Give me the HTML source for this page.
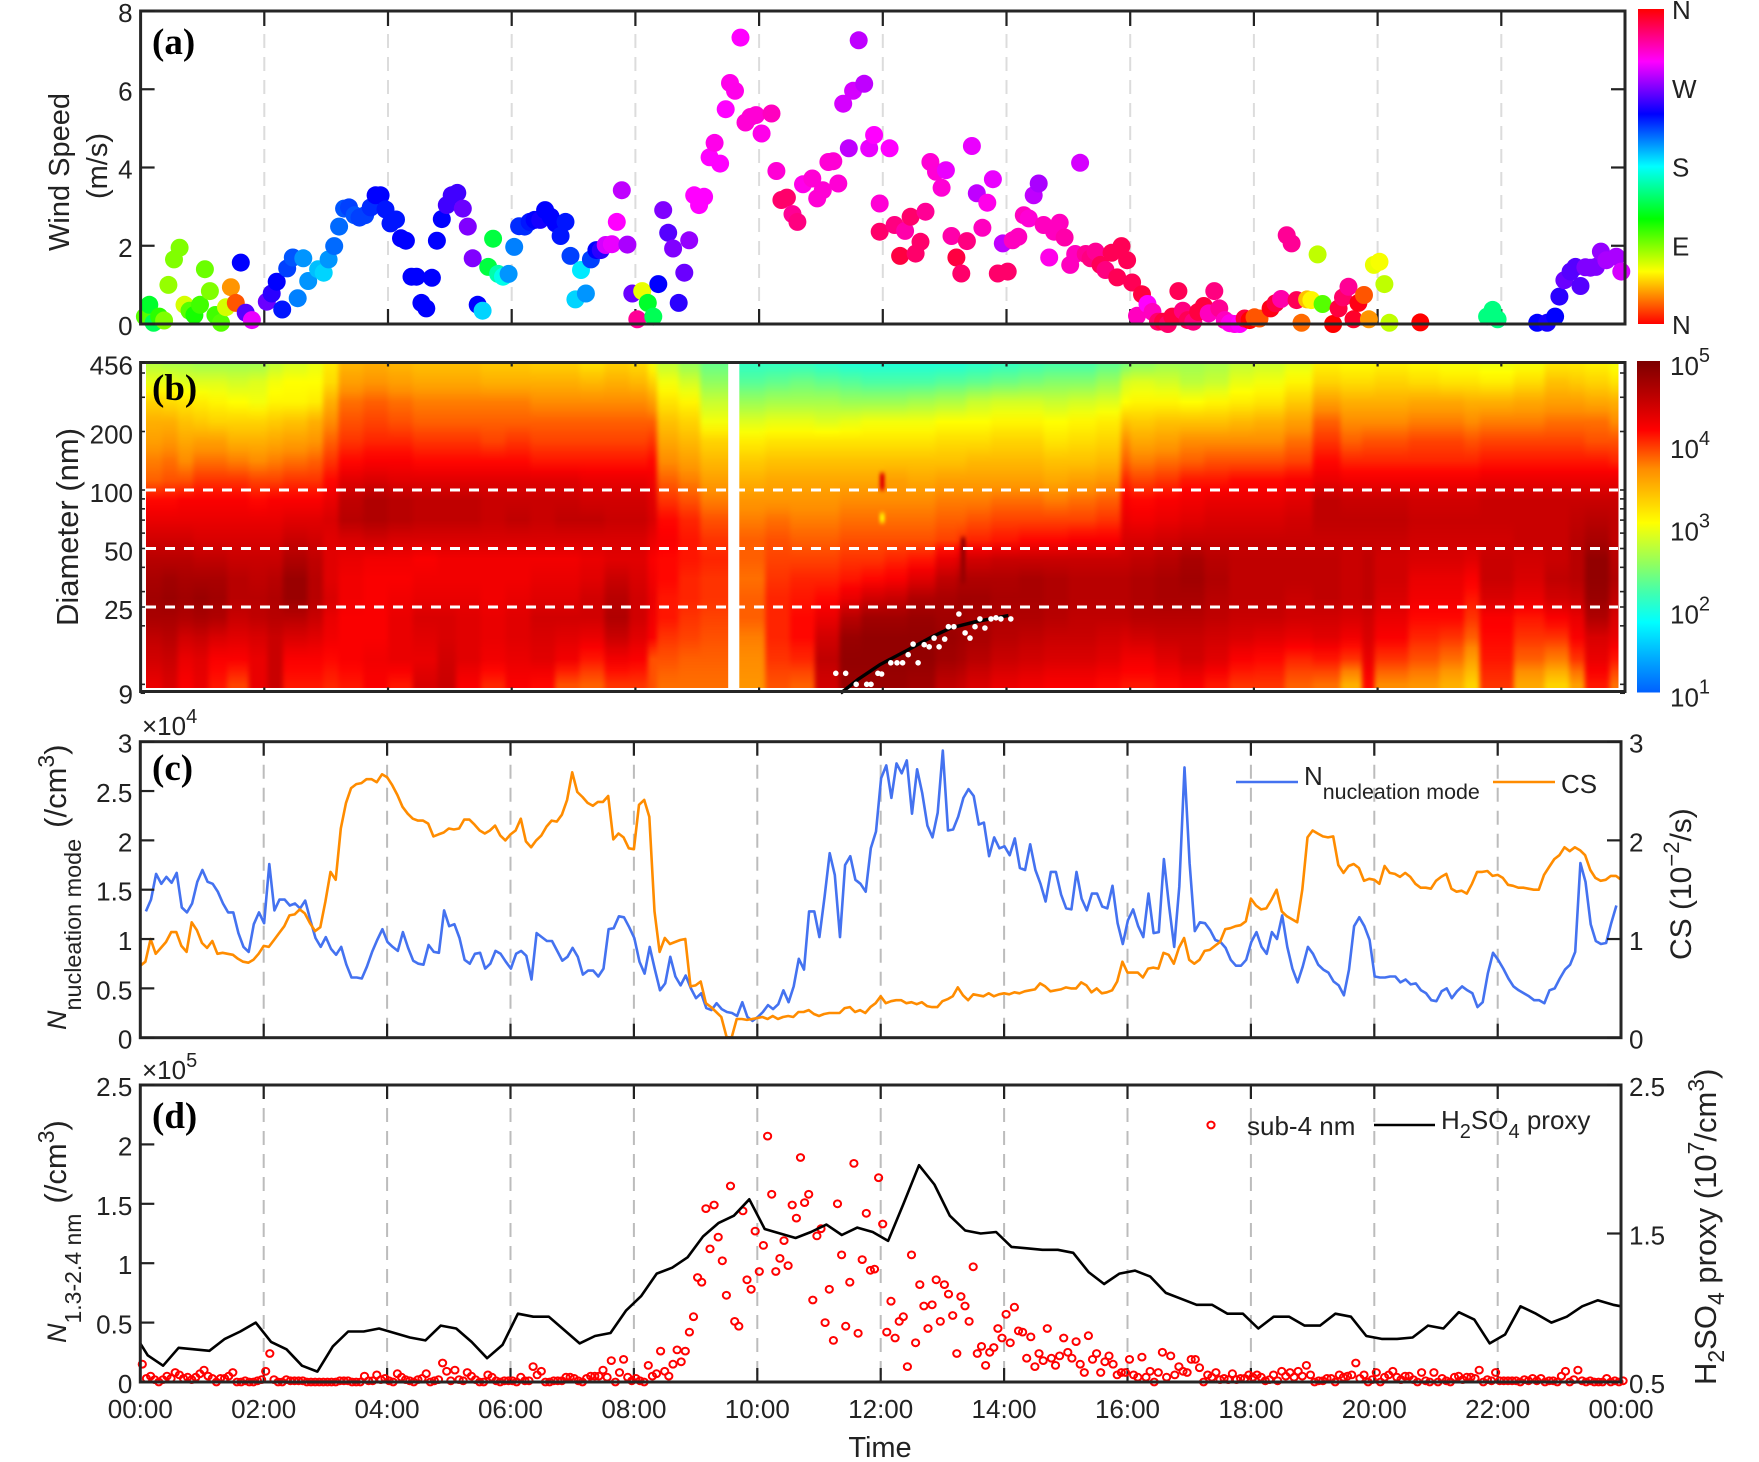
<!DOCTYPE html>
<html lang="en">
<head>
<meta charset="utf-8">
<title>Wind, particle size distribution, nucleation mode and sub-4 nm time series</title>
<style>
html,body{margin:0;padding:0;background:#fff}
svg{display:block}
text{font-family:"Liberation Sans",sans-serif;fill:#222}
.tag{font-family:"Liberation Serif",serif;font-weight:bold;font-size:37px;fill:#000}
.t{font-size:26px}
</style>
</head>
<body>
<svg id="chart" xmlns="http://www.w3.org/2000/svg" width="1759" height="1462" viewBox="0 0 1759 1462">
<defs id="defs">
<clipPath id="heat-clip"><rect x="146" y="364" width="1472.5" height="324"/></clipPath>
<filter id="heat-blur" filterUnits="userSpaceOnUse" x="0" y="300" width="1759" height="450" color-interpolation-filters="sRGB"><feGaussianBlur stdDeviation="2.5 0"/></filter>
<filter id="spike-blur" filterUnits="userSpaceOnUse" x="700" y="400" width="400" height="250" color-interpolation-filters="sRGB"><feGaussianBlur stdDeviation="1.5 2.5"/></filter>
</defs>
<g id="panel-a"></g>
<g id="panel-b"></g>
<g id="panel-c"></g>
<g id="panel-d"></g>
<g id="labels">
<text class="tag" x="152" y="54">(a)</text>
<text class="tag" x="152" y="400">(b)</text>
<text class="tag" x="152" y="780">(c)</text>
<text class="tag" x="152" y="1128">(d)</text>

<text transform="translate(69,172) rotate(-90)" text-anchor="middle" font-size="29">Wind Speed</text>
<text transform="translate(107,166) rotate(-90)" text-anchor="middle" font-size="29">(m/s)</text>
<text transform="translate(78,527) rotate(-90)" text-anchor="middle" font-size="31">Diameter (nm)</text>

<text transform="translate(66,1030) rotate(-90)" font-size="27"><tspan font-style="italic">N</tspan><tspan dy="15" font-size="23.4">nucleation mode</tspan><tspan dy="-15" dx="11" font-size="31">(/cm</tspan><tspan dy="-12" font-size="23">3</tspan><tspan dy="12" font-size="31">)</tspan></text>
<text transform="translate(66,1343) rotate(-90)" font-size="27"><tspan font-style="italic">N</tspan><tspan dy="15" font-size="23">1.3-2.4 nm</tspan><tspan dy="-15" dx="10" font-size="31">(/cm</tspan><tspan dy="-12" font-size="23">3</tspan><tspan dy="12" font-size="31">)</tspan></text>

<text transform="translate(1691,960) rotate(-90)" font-size="30">CS (10<tspan dy="-12" font-size="22">−2</tspan><tspan dy="12">/s)</tspan></text>
<text transform="translate(1716,1385) rotate(-90)" font-size="31">H<tspan dy="8" font-size="23">2</tspan><tspan dy="-8">SO</tspan><tspan dy="8" font-size="23">4</tspan><tspan dy="-8"> proxy (10</tspan><tspan dy="-12" font-size="23">7</tspan><tspan dy="12">/cm</tspan><tspan dy="-12" font-size="23">3</tspan><tspan dy="12">)</tspan></text>

<text x="880" y="1457" text-anchor="middle" font-size="29">Time</text>

<text x="142" y="735" font-size="26">×10<tspan dy="-12" font-size="20">4</tspan></text>
<text x="142" y="1079" font-size="26">×10<tspan dy="-12" font-size="20">5</tspan></text>

<line x1="1236" y1="782" x2="1298" y2="782" stroke="#4472f0" stroke-width="2.6"/>
<text x="1304" y="785" font-size="26">N<tspan dy="14" font-size="21.4">nucleation mode</tspan></text>
<line x1="1493" y1="782" x2="1555" y2="782" stroke="#ff8c00" stroke-width="2.6"/>
<text x="1561" y="793" font-size="26">CS</text>

<ellipse cx="1211" cy="1125" rx="3.6" ry="3.4" fill="none" stroke="#f00" stroke-width="2"/>
<text x="1247" y="1135" font-size="26">sub-4 nm</text>
<line x1="1374" y1="1125" x2="1435" y2="1125" stroke="#000" stroke-width="2.6"/>
<text x="1441" y="1129" font-size="26">H<tspan dy="9" font-size="20">2</tspan><tspan dy="-9">SO</tspan><tspan dy="9" font-size="20">4</tspan><tspan dy="-9"> proxy</tspan></text>
</g>
</svg>
<script>
/* ---------- shared axis labels ---------- */
const timeTickHours = [0,2,4,6,8,10,12,14,16,18,20,22,24];
const timeTickLabels = ["00:00","02:00","04:00","06:00","08:00","10:00","12:00","14:00","16:00","18:00","20:00","22:00","00:00"];
const windTicks = [0,2,4,6,8];
const diameterMajorTicks = [9,25,50,100,200,456];
const diameterMinorTicks = [10,20,30,40,60,70,80,90,300,400];
const nucleationTicks = [0,0.5,1,1.5,2,2.5,3];
const csTicks = [0,1,2,3];
const subTicks = [0,0.5,1,1.5,2,2.5];
const h2so4Ticks = [0.5,1.5,2.5];
const compassLabels = ["N","E","S","W","N"];
const concentrationExponents = [1,2,3,4,5];

/* ---------- panel (a) wind: hours, speed m/s, direction deg ---------- */
const windHours = [.07,.14,.21,.30,.38,.45,.54,.63,.71,.79,.87,.96,1.04,1.12,1.21,1.30,1.38,1.46,1.54,1.62,1.70,1.80,2.04,2.12,2.20,2.29,2.37,2.46,2.54,2.63,2.71,2.87,2.96,3.04,3.13,3.21,3.29,3.37,3.46,3.54,3.63,3.72,3.80,3.88,3.96,4.04,4.13,4.21,4.29,4.38,4.46,4.54,4.62,4.71,4.79,4.87,4.95,5.03,5.12,5.21,5.29,5.37,5.45,5.53,5.62,5.70,5.78,5.86,5.95,6.04,6.12,6.21,6.29,6.37,6.46,6.54,6.63,6.71,6.79,6.87,6.95,7.03,7.12,7.20,7.28,7.37,7.44,7.52,7.62,7.70,7.78,7.87,7.95,8.03,8.11,8.20,8.29,8.37,8.45,8.53,8.61,8.70,8.79,8.87,8.95,9.03,9.11,9.20,9.28,9.37,9.46,9.53,9.61,9.70,9.78,9.86,9.95,10.04,10.20,10.28,10.36,10.45,10.54,10.62,10.71,10.86,10.94,11.03,11.12,11.20,11.28,11.36,11.45,11.52,11.61,11.70,11.78,11.86,11.95,11.95,12.11,12.19,12.28,12.36,12.45,12.53,12.61,12.69,12.77,12.86,12.95,13.02,13.11,13.19,13.27,13.36,13.44,13.52,13.61,13.69,13.78,13.86,13.94,14.02,14.10,14.19,14.28,14.36,14.44,14.52,14.60,14.69,14.77,14.86,14.94,15.03,15.11,15.19,15.28,15.36,15.44,15.52,15.60,15.70,15.79,15.86,15.95,16.03,16.11,16.19,16.28,16.36,16.45,16.53,16.61,16.68,16.78,16.85,16.93,17.02,17.10,17.19,17.27,17.36,17.44,17.53,17.61,17.69,17.77,17.85,17.93,18.01,18.09,18.27,18.35,18.44,18.53,18.61,18.69,18.77,18.86,18.93,19.03,19.11,19.28,19.37,19.44,19.53,19.61,19.69,19.78,19.86,19.94,20.03,20.11,20.19,20.69,21.77,21.86,21.94,22.58,22.74,22.87,22.94,23.02,23.12,23.20,23.28,23.36,23.44,23.53,23.61,23.70,23.86,23.94];
const windSpeeds = [.19,.49,.03,.19,.09,1.0,1.65,1.95,.49,.34,.23,.49,1.40,.84,.23,.03,.43,.94,.54,1.57,.29,.10,.57,.78,1.08,.37,1.42,1.70,.66,1.68,1.10,1.40,1.31,1.65,1.99,2.49,2.95,2.98,2.78,2.72,2.78,2.98,3.29,3.29,2.93,2.57,2.67,2.19,2.13,1.21,1.21,.54,.40,1.18,2.13,2.68,3.04,3.29,3.35,2.95,2.49,1.68,.49,.34,1.46,2.18,1.28,1.21,1.28,1.97,2.50,2.49,2.61,2.66,2.66,2.91,2.74,2.57,2.25,2.61,1.74,.63,1.38,.78,1.65,1.89,1.89,2.02,2.04,2.61,3.42,2.03,.78,.12,.84,.54,.19,1.02,2.91,2.33,1.93,.54,1.31,2.14,3.29,3.04,3.25,4.26,4.63,4.10,5.49,6.16,5.96,7.32,5.15,5.29,5.34,4.87,5.38,3.91,3.17,3.23,2.81,2.61,3.57,3.72,3.21,3.42,4.14,4.16,3.59,5.63,4.49,5.96,7.25,6.14,4.49,4.83,3.08,2.36,4.49,2.53,1.74,2.38,2.74,1.80,2.10,2.87,4.14,3.89,3.48,3.93,2.25,1.70,1.29,2.12,4.55,3.34,2.46,3.10,3.70,1.29,2.06,1.34,2.14,2.23,2.78,2.70,3.29,3.59,2.53,1.70,2.36,2.59,2.21,1.51,1.79,4.12,1.79,1.68,1.85,1.51,1.38,1.82,1.19,1.99,1.63,1.06,.21,.76,.51,.31,.06,.06,0,.19,.84,.34,.10,.06,.31,.46,.27,.84,.40,.10,.02,0,0,.14,.10,.17,.14,.40,.53,.64,2.27,2.06,.61,.03,.63,.61,1.78,.51,0,.40,.68,.95,.12,.54,.74,.12,1.51,1.59,1.02,.03,.04,.19,.36,.12,.03,.03,.19,.70,1.12,1.34,1.46,.97,1.45,1.44,1.46,1.85,1.63,1.72,1.34];
const windDirections = [100,130,140,110,90,85,90,90,70,100,115,105,95,90,105,100,70,35,20,240,260,295,265,250,240,235,225,220,210,205,205,195,190,205,215,215,220,225,220,225,225,230,240,240,235,235,235,240,240,240,240,240,240,240,240,240,255,255,255,265,270,270,240,190,135,135,160,175,205,210,230,230,235,240,245,240,240,240,235,235,225,190,185,205,225,240,250,290,295,300,285,280,265,325,65,130,140,240,270,260,270,250,265,275,300,300,300,300,305,300,300,305,305,300,310,310,310,305,315,310,335,335,325,330,305,310,310,310,310,310,310,290,285,290,285,285,295,300,310,335,300,330,345,320,335,335,335,325,310,310,310,295,320,345,335,330,295,285,315,305,295,335,285,335,315,315,315,310,285,280,315,305,315,315,320,315,315,290,325,330,325,340,330,340,340,340,340,340,315,345,300,315,335,345,335,345,340,330,340,330,345,345,315,330,325,315,305,305,300,345,0,20,20,355,345,320,325,325,340,25,45,58,75,100,0,345,335,325,350,355,20,35,65,62,75,75,0,150,150,150,240,245,240,250,265,260,260,260,270,270,270,275,280,280,290];

/* ---------- panel (b) size distribution, log10(dN/dlogDp) ---------- */
const growthHours = [11.32,11.6,11.95,12.4,12.8,13.1,13.5,14.03];
const growthDiameters = [9,10.6,12.6,15,17.6,19.5,21,22.6];
const modeHours = [11.24,11.40,11.57,11.74,11.81,11.92,11.98,12.13,12.23,12.32,12.57,12.41,12.49,12.67,12.75,12.83,12.91,13.0,13.06,13.15,13.23,13.33,13.41,13.49,13.57,13.65,13.75,13.83,13.91,14.07];
const modeDiameters = [11.4,11.4,10,10,10,11.4,11.3,12.9,12.9,12.9,12.9,14.2,16.1,16,15.6,17.3,15.6,17.1,19.8,19.8,23,18.4,17.3,19.8,21.7,19.5,21.7,22,21.7,21.7];
const referenceDiameters = [100,50,25];
const missingStartHour = 9.5;
const missingEndHour = 9.68;
const spikeHours = [11.99,11.99,13.3];
const spikeUpperDiameters = [122,76,57];
const spikeLowerDiameters = [100,68,33];
const spikeValues = [4.35,3.1,4.8];
const heatDiameters = [456,360,285,225,178,141,112,89,70,56,44,35,28,22,17.5,13.8,10];
const heatHours = [0,.35,.6,.85,1.1,1.4,1.75,2.05,2.3,2.7,2.95,3.2,3.6,4.0,4.4,4.8,5.1,5.5,5.9,6.3,6.7,7.1,7.5,7.9,8.2,8.35,8.7,9.05,9.59,10.1,10.5,10.9,11.3,11.65,12.03,12.4,12.85,13.2,13.35,13.75,14.2,14.6,15.0,15.45,15.85,16.0,16.4,16.8,17.2,17.6,18.0,18.5,18.95,19.4,19.75,19.95,20.5,21.0,21.4,21.65,22.2,22.7,23.1,23.35,23.75,24];
const heatValues = [
[2.7,2.95,3.3,3.5,3.6,3.75,3.85,4.15,4.3,4.45,4.6,4.7,4.75,4.7,4.55,4.45,4.3],
[2.65,2.95,3.25,3.5,3.65,3.8,3.9,4.15,4.3,4.45,4.6,4.75,4.8,4.7,4.6,4.5,4.4],
[2.65,2.9,3.2,3.4,3.55,3.7,3.9,4.2,4.3,4.45,4.6,4.7,4.75,4.65,4.45,4.3,4.2],
[2.6,2.9,3.15,3.35,3.6,3.8,4.0,4.2,4.3,4.4,4.55,4.7,4.8,4.7,4.5,4.35,4.3],
[2.6,2.9,3.1,3.3,3.6,3.8,4.0,4.2,4.3,4.4,4.55,4.7,4.75,4.65,4.4,4.2,4.1],
[2.6,2.85,3.05,3.3,3.5,3.75,4.0,4.2,4.3,4.4,4.5,4.6,4.6,4.5,4.35,4.2,3.95],
[2.6,2.9,3.0,3.3,3.5,3.7,3.95,4.15,4.3,4.4,4.5,4.55,4.6,4.55,4.4,4.3,4.3],
[2.75,3.0,3.1,3.35,3.55,3.75,3.95,4.2,4.3,4.4,4.5,4.6,4.65,4.6,4.5,4.5,4.5],
[2.85,3.05,3.1,3.4,3.6,3.8,4.0,4.2,4.35,4.5,4.65,4.8,4.8,4.6,4.4,4.2,4.1],
[2.95,3.05,3.15,3.5,3.65,3.85,4.0,4.2,4.35,4.45,4.55,4.6,4.6,4.5,4.35,4.2,4.1],
[3.15,3.25,3.5,3.7,3.85,4.0,4.15,4.3,4.4,4.35,4.35,4.35,4.4,4.3,4.25,4.15,4.05],
[3.45,3.6,3.8,3.9,4.0,4.15,4.35,4.55,4.6,4.4,4.3,4.25,4.25,4.2,4.2,4.2,4.1],
[3.5,3.65,3.85,3.95,4.05,4.2,4.4,4.65,4.65,4.45,4.25,4.2,4.2,4.2,4.2,4.25,4.2],
[3.45,3.6,3.8,3.9,4.05,4.2,4.35,4.6,4.6,4.4,4.25,4.2,4.25,4.3,4.3,4.3,4.1],
[3.4,3.55,3.75,3.85,4.0,4.15,4.35,4.55,4.55,4.4,4.2,4.25,4.3,4.4,4.35,4.3,4.4],
[3.4,3.55,3.75,3.85,4.0,4.15,4.35,4.55,4.55,4.4,4.25,4.25,4.3,4.4,4.4,4.45,4.5],
[3.4,3.55,3.75,3.85,4.0,4.15,4.35,4.55,4.55,4.4,4.25,4.25,4.3,4.35,4.35,4.35,4.2],
[3.35,3.5,3.75,3.85,3.95,4.15,4.35,4.5,4.5,4.4,4.25,4.25,4.25,4.3,4.3,4.25,4.05],
[3.35,3.5,3.75,3.85,4.0,4.15,4.35,4.5,4.55,4.4,4.25,4.25,4.3,4.35,4.35,4.3,4.2],
[3.3,3.5,3.7,3.85,3.95,4.1,4.35,4.5,4.5,4.4,4.25,4.3,4.35,4.45,4.4,4.35,4.15],
[3.3,3.5,3.7,3.85,3.95,4.1,4.35,4.5,4.55,4.4,4.25,4.3,4.35,4.45,4.35,4.25,3.9],
[3.2,3.45,3.7,3.85,3.95,4.1,4.3,4.45,4.55,4.4,4.3,4.35,4.45,4.45,4.3,4.1,3.85],
[3.3,3.5,3.7,3.85,3.95,4.1,4.3,4.45,4.5,4.4,4.35,4.5,4.6,4.65,4.5,4.25,4.0],
[3.25,3.45,3.7,3.85,3.95,4.1,4.3,4.45,4.5,4.4,4.35,4.4,4.45,4.45,4.35,4.2,4.0],
[3.0,3.3,3.6,3.85,4.0,4.15,4.25,4.35,4.4,4.3,4.2,4.25,4.3,4.25,4.2,3.9,3.9],
[2.75,3.0,3.2,3.4,3.55,3.7,3.85,4.0,4.15,4.2,4.15,4.15,4.1,4.1,4.0,3.9,3.8],
[2.55,2.85,3.1,3.3,3.45,3.6,3.75,3.9,4.05,4.1,4.1,4.05,4.05,4.0,3.95,3.85,3.8],
[2.35,2.55,2.8,3.0,3.3,3.45,3.6,3.75,3.9,4.0,4.05,4.0,4.0,3.95,3.9,3.85,3.8],
[2.1,2.3,2.6,2.9,3.15,3.35,3.5,3.65,3.75,3.85,3.85,3.8,3.85,3.85,3.75,3.7,3.65],
[2.1,2.35,2.65,2.95,3.2,3.4,3.55,3.65,3.8,3.9,3.95,4.0,4.05,4.05,4.05,4.0,3.9],
[2.1,2.4,2.65,2.95,3.2,3.4,3.55,3.65,3.75,3.85,3.95,4.05,4.1,4.15,4.15,4.05,3.85],
[2.05,2.35,2.65,2.9,3.2,3.4,3.55,3.65,3.75,3.85,3.95,4.05,4.15,4.3,4.45,4.55,4.45],
[2.0,2.3,2.6,2.95,3.2,3.4,3.55,3.7,3.8,3.9,4.0,4.1,4.3,4.6,4.8,4.85,4.8],
[2.0,2.25,2.6,3.0,3.2,3.4,3.55,3.7,3.8,3.9,4.0,4.15,4.45,4.75,4.85,4.85,4.8],
[2.0,2.25,2.6,3.0,3.2,3.4,3.6,3.7,3.8,3.9,4.05,4.2,4.5,4.75,4.85,4.85,4.8],
[2.0,2.25,2.65,3.0,3.2,3.4,3.55,3.7,3.8,3.9,4.1,4.35,4.65,4.8,4.85,4.85,4.75],
[2.0,2.3,2.7,3.05,3.25,3.4,3.6,3.75,3.85,3.95,4.3,4.55,4.7,4.75,4.8,4.75,4.55],
[2.0,2.3,2.7,3.05,3.25,3.4,3.6,3.75,3.85,4.0,4.4,4.65,4.75,4.75,4.75,4.7,4.5],
[2.05,2.35,2.8,3.05,3.25,3.45,3.6,3.75,3.9,4.05,4.45,4.65,4.75,4.7,4.7,4.6,4.4],
[2.1,2.4,2.85,3.1,3.3,3.45,3.6,3.8,3.95,4.1,4.5,4.65,4.7,4.65,4.6,4.5,4.3],
[2.15,2.45,2.85,3.1,3.3,3.45,3.6,3.8,3.95,4.15,4.5,4.7,4.7,4.65,4.55,4.45,4.25],
[2.2,2.5,2.8,3.05,3.2,3.4,3.55,3.75,3.95,4.15,4.5,4.65,4.65,4.6,4.5,4.4,4.2],
[2.2,2.5,2.85,3.1,3.25,3.4,3.6,3.8,3.95,4.2,4.5,4.6,4.6,4.55,4.5,4.4,4.2],
[2.3,2.6,2.9,3.15,3.3,3.45,3.65,3.85,4.0,4.2,4.5,4.6,4.6,4.55,4.45,4.35,4.15],
[2.4,2.85,3.05,3.4,3.7,3.85,4.05,4.2,4.3,4.4,4.5,4.6,4.6,4.55,4.4,4.25,4.1],
[2.5,2.9,3.1,3.35,3.55,3.75,3.95,4.15,4.25,4.4,4.55,4.65,4.65,4.6,4.45,4.25,4.1],
[2.6,2.85,3.1,3.4,3.6,3.8,4.0,4.2,4.3,4.45,4.6,4.7,4.7,4.6,4.5,4.35,4.15],
[2.6,2.75,3.05,3.4,3.7,3.85,4.1,4.25,4.35,4.5,4.7,4.75,4.7,4.6,4.5,4.45,4.2],
[2.65,2.8,3.1,3.4,3.7,3.9,4.1,4.3,4.4,4.5,4.6,4.65,4.6,4.55,4.45,4.35,4.1],
[2.75,2.95,3.15,3.45,3.7,3.9,4.15,4.3,4.4,4.5,4.55,4.55,4.55,4.5,4.4,4.2,4.0],
[2.8,3.0,3.2,3.5,3.7,3.9,4.15,4.3,4.4,4.5,4.55,4.55,4.55,4.5,4.35,4.15,4.0],
[2.9,3.1,3.35,3.6,3.8,3.95,4.2,4.35,4.45,4.5,4.55,4.55,4.5,4.45,4.3,4.05,3.85],
[3.1,3.3,3.6,3.85,4.0,4.15,4.3,4.55,4.55,4.5,4.55,4.55,4.55,4.45,4.35,4.1,3.8],
[3.05,3.25,3.5,3.7,3.85,4.05,4.25,4.5,4.55,4.5,4.5,4.5,4.5,4.4,4.25,4.0,3.5],
[3.05,3.25,3.5,3.7,3.9,4.05,4.25,4.5,4.55,4.5,4.55,4.55,4.55,4.45,4.4,4.3,4.15],
[3.1,3.3,3.5,3.7,3.9,4.05,4.25,4.5,4.55,4.5,4.45,4.45,4.4,4.3,4.2,4.0,3.7],
[3.05,3.25,3.55,3.75,3.95,4.05,4.25,4.45,4.5,4.45,4.4,4.3,4.25,4.15,4.05,3.9,3.65],
[3.0,3.2,3.55,3.75,3.95,4.05,4.25,4.45,4.5,4.45,4.4,4.3,4.25,4.15,4.0,3.8,3.5],
[3.0,3.2,3.5,3.7,3.9,4.05,4.25,4.45,4.5,4.45,4.35,4.2,4.1,4.0,3.85,3.6,3.3],
[2.95,3.15,3.5,3.75,3.95,4.1,4.3,4.5,4.5,4.45,4.5,4.5,4.4,4.2,4.15,4.1,4.0],
[3.0,3.25,3.55,3.75,3.95,4.1,4.3,4.5,4.5,4.5,4.45,4.4,4.3,4.1,4.0,3.85,3.55],
[3.15,3.4,3.6,3.8,3.95,4.1,4.3,4.5,4.5,4.5,4.5,4.55,4.45,4.2,4.0,3.75,3.3],
[3.15,3.35,3.6,3.8,3.95,4.1,4.3,4.5,4.55,4.6,4.6,4.6,4.5,4.3,4.2,4.0,3.6],
[3.1,3.3,3.55,3.8,3.9,4.1,4.3,4.5,4.6,4.7,4.85,4.85,4.8,4.65,4.4,4.3,4.1],
[3.0,3.2,3.5,3.7,3.9,4.05,4.3,4.5,4.55,4.55,4.6,4.65,4.55,4.4,4.3,4.1,3.8]
];

/* ---------- panel (c) five-minute series ---------- */
const nucleationStartHour = 0.09;
const csStartHour = 0;
const fiveMinuteStep = 1/12;
const nucleationValues = [1.28,1.40,1.66,1.56,1.63,1.57,1.67,1.32,1.27,1.36,1.58,1.70,1.58,1.56,1.48,1.36,1.27,1.27,1.06,.92,.87,1.15,1.27,1.16,1.76,1.29,1.40,1.40,1.34,1.36,1.31,1.39,1.19,1.01,.92,1.02,.90,.84,.92,.74,.61,.61,.60,.72,.87,.99,1.10,.97,.92,.88,1.07,.91,.78,.75,.74,.94,.87,.86,1.29,1.13,1.15,1.01,.79,.75,.85,.86,.70,.75,.88,.85,.77,.70,.85,.88,.83,.59,1.06,1.02,.98,.98,.88,.78,.82,.91,.82,.64,.68,.68,.62,.70,1.10,1.11,1.23,1.22,1.12,1.01,.77,.65,.92,.69,.48,.55,.82,.62,.53,.63,.50,.40,.45,.30,.28,.35,.29,.26,.25,.22,.36,.21,.17,.21,.26,.33,.29,.34,.48,.36,.52,.80,.69,1.28,1.28,1.02,1.43,1.87,1.65,1.02,1.75,1.84,1.60,1.56,1.48,1.92,2.09,2.63,
2.76,2.43,2.78,2.68,2.81,2.27,2.72,2.48,2.15,2.03,2.28,2.91,2.10,2.11,2.24,2.43,2.52,2.45,2.16,2.18,1.84,2.03,1.92,1.94,1.85,2.02,1.72,1.70,1.96,1.70,1.56,1.38,1.68,1.68,1.45,1.31,1.30,1.68,1.41,1.29,1.46,1.46,1.33,1.31,1.54,1.16,.95,1.19,1.30,1.13,1.02,1.46,1.06,1.07,1.81,1.34,.92,1.53,2.74,1.77,1.08,1.17,1.16,1.09,.99,.97,.91,.79,.73,.73,.79,.97,1.07,.92,.85,1.07,1.00,1.24,.92,.70,.56,.72,.92,.85,.74,.69,.66,.57,.53,.43,.69,1.13,1.22,1.13,.99,.62,.61,.61,.62,.62,.56,.59,.54,.55,.48,.45,.38,.37,.47,.50,.40,.47,.52,.48,.45,.31,.36,.65,.86,.79,.70,.60,.52,.48,.45,.42,.38,.38,.35,.48,.50,.60,.69,.74,.87,1.77,1.58,1.15,.98,.95,.96,1.16,1.34];
const csValues = [.73,.77,1.00,.85,.91,.97,1.07,1.07,.93,.87,1.17,1.09,.96,.91,.98,.85,.86,.85,.84,.80,.77,.76,.79,.85,.93,.92,.99,1.06,1.13,1.24,1.25,1.30,1.26,1.16,1.08,1.12,1.38,1.68,1.60,2.12,2.38,2.53,2.57,2.58,2.62,2.62,2.59,2.67,2.64,2.56,2.46,2.34,2.27,2.22,2.20,2.20,2.17,2.04,2.06,2.08,2.12,2.11,2.12,2.21,2.21,2.16,2.10,2.07,2.10,2.15,2.05,2.00,2.06,2.10,2.22,1.99,1.93,2.00,2.05,2.14,2.20,2.19,2.26,2.41,2.69,2.49,2.44,2.38,2.35,2.39,2.39,2.45,2.01,2.07,2.03,1.92,1.91,2.36,2.41,2.24,1.28,.87,1.01,.95,.97,.99,1.00,.52,.53,.57,.35,.31,.26,.21,.01,0,.19,.19,.18,.19,.20,.21,.19,.22,.19,.21,.22,.21,.26,.26,.28,.24,.22,.24,.25,.25,.25,.30,.31,.26,.28,.25,.31,.35,.42,
.35,.37,.38,.38,.35,.36,.34,.36,.32,.31,.31,.37,.39,.42,.51,.43,.38,.44,.43,.42,.45,.42,.44,.45,.44,.46,.45,.47,.48,.49,.55,.52,.47,.48,.49,.51,.50,.50,.56,.53,.46,.50,.45,.46,.48,.57,.77,.66,.66,.66,.61,.70,.71,.70,.86,.84,.75,.91,1.01,.79,.75,.79,.88,.89,.93,.97,1.10,1.11,1.13,1.14,1.18,1.41,1.34,1.30,1.31,1.40,1.50,1.28,1.23,1.20,1.17,1.50,2.03,2.10,2.07,2.04,2.03,2.04,1.75,1.67,1.74,1.76,1.72,1.59,1.61,1.60,1.56,1.74,1.67,1.66,1.63,1.67,1.63,1.56,1.52,1.52,1.51,1.59,1.63,1.66,1.51,1.48,1.49,1.46,1.56,1.68,1.68,1.69,1.64,1.65,1.62,1.55,1.54,1.52,1.52,1.51,1.50,1.50,1.65,1.73,1.81,1.85,1.93,1.89,1.93,1.90,1.85,1.70,1.62,1.59,1.60,1.64,1.64,1.60];

/* ---------- panel (d) ---------- */
const subStartHour = 0.033;
const subStep = 1/15;
const subValues = [.15,.03,.05,.02,0,.02,.05,.03,.08,.06,.03,.04,.02,.04,.07,.10,.05,.03,0,.03,.03,.05,.08,0,0,.01,0,0,.01,.02,.09,.24,.02,0,0,.02,.01,.01,.01,.01,0,0,0,0,0,0,0,0,.01,.01,.01,0,0,0,.05,.01,.01,.06,.02,.03,.01,0,.07,.04,.02,.01,0,.02,.03,.07,0,.01,.02,.16,.09,.01,.10,.02,.01,.08,.05,.02,0,0,.06,.04,.01,0,.01,.01,.01,0,.04,.01,.01,.13,.06,.09,0,0,.01,.01,.01,.04,.04,.03,.01,0,.03,.05,.05,.05,.10,.04,.18,0,.08,.19,.04,.01,.03,.01,0,.14,.05,.07,.26,.09,.05,.15,.27,.17,.26,.42,.55,.88,.84,1.46,1.12,1.49,1.22,1.02,.73,1.65,.51,.47,1.44,.86,.78,1.27,.93,1.15,2.07,1.58,.93,1.04,1.19,.98,1.49,1.38,1.89,1.51,1.58,.69,1.23,1.29,.50,.78,.35,1.50,1.07,.47,.84,1.84,.41,1.03,1.42,.94,.95,1.72,1.33,.42,.68,.37,.51,.55,.13,1.07,.33,.82,.64,.45,.65,.86,.51,.82,.74,.56,.24,.72,.64,.51,.97,.24,.30,.14,.25,.29,.45,.37,.57,.33,.63,.43,.42,.20,.38,.13,.24,.18,.45,.20,.14,.22,.37,.25,.20,.34,.15,.08,.39,.19,.24,.08,.17,.22,.15,.06,.08,.08,.19,.06,.04,.21,.04,.09,0,.08,.25,.04,.22,.06,.13,.09,.08,.19,.19,.12,0,.06,.04,.08,.02,.03,.02,.07,.02,.03,.03,.06,.04,.06,.04,.01,.02,.06,.01,.09,.05,.08,.04,.09,.05,.14,.06,0,.01,.01,.03,.03,0,.06,.04,.05,.06,.16,.03,.06,0,.02,.08,0,.04,.06,.09,.04,.02,.05,.05,.02,0,.08,.01,0,.08,0,.03,.01,0,.04,.05,.02,.04,.04,.03,.10,0,.02,.01,.08,.01,.01,.01,.01,.01,0,.02,.01,.03,.01,.03,0,.01,.01,0,.05,.09,0,.02,.10,.01,0,.01,0,0,0,.03,0,.01,0,.01];
const h2so4Values = [.76,.68,.61,.73,.72,.71,.79,.84,.90,.77,.72,.61,.57,.74,.84,.84,.86,.83,.80,.78,.88,.86,.77,.66,.75,.96,.94,.94,.85,.76,.81,.83,.98,1.08,1.23,1.27,1.34,1.48,1.57,1.62,1.73,1.53,1.50,1.47,1.51,1.56,1.49,1.54,1.51,1.45,1.70,1.96,1.83,1.62,1.52,1.50,1.51,1.41,1.40,1.39,1.39,1.37,1.24,1.16,1.23,1.25,1.21,1.10,1.06,1.02,1.02,.96,.96,.86,.94,.94,.88,.88,.96,.94,.81,.79,.79,.80,.88,.86,.97,.92,.76,.82,1.01,.96,.90,.94,1.01,1.05,1.02,1.01];
const h2so4FirstHour = 0;
const h2so4SecondHour = 0.12;
const h2so4Step = 0.25;
const h2so4LastHour = 24;

/* ---------- colour map stops for the concentration scale ---------- */
const concStops = [1.0,1.4,1.85,2.2,2.55,3.05,3.7,4.17,4.6,5.0];
const concColors = [[0,96,255],[0,168,255],[0,255,255],[64,255,176],[144,255,96],[255,255,0],[255,140,0],[255,0,0],[184,0,0],[124,0,0]];

/* ---------- scales ---------- */
const xA = h => 140.6 + h * 61.85;
const xC = h => 140.3 + h * 61.7;
const yA = v => 324 - v * 39.125;
const yB = d => 490 - Math.log2(d / 100) * 58.5;
const yC = v => 1037.7 - v * (296 / 3);
const yDL = v => 1382 - v * (297 / 2.5);
const yDR = v => 1382 - (v - 0.5) * (297 / 2);
const concColor = v => {
  const s = concStops, c = concColors;
  if (v <= s[0]) return 'rgb(' + c[0] + ')';
  for (let i = 1; i < s.length; i++) {
    if (v <= s[i]) {
      const f = (v - s[i-1]) / (s[i] - s[i-1]);
      return 'rgb(' + c[i].map((q, k) => Math.round(c[i-1][k] + (q - c[i-1][k]) * f)).join(',') + ')';
    }
  }
  return 'rgb(' + c[c.length-1] + ')';
};

const NS = 'http://www.w3.org/2000/svg';
const defs = document.getElementById('defs');
const pA = document.getElementById('panel-a');
const pB = document.getElementById('panel-b');
const pC = document.getElementById('panel-c');
const pD = document.getElementById('panel-d');
function mk(parent, tag, attrs, text) {
  const n = document.createElementNS(NS, tag);
  for (const k in attrs) n.setAttribute(k, attrs[k]);
  if (text !== undefined) n.textContent = text;
  parent.appendChild(n);
  return n;
}

/* grid and x ticks */
function timeGrid(parent, x, top, bottom, color, tickLen, withDash) {
  timeTickHours.slice(1, -1).forEach(h => {
    if (withDash) {
      const g = mk(parent, 'line', {x1: x(h), x2: x(h), y1: top, y2: bottom, stroke: color, 'stroke-width': 2, 'stroke-dasharray': '14 9'});
      
      
    }
    const t1 = mk(parent, 'line', {x1: x(h), x2: x(h), y1: top, y2: top + tickLen, stroke: '#222', 'stroke-width': 2.2});
    
    
    const t2 = mk(parent, 'line', {x1: x(h), x2: x(h), y1: bottom - tickLen, y2: bottom, stroke: '#222', 'stroke-width': 2.2});
    
    
  });
}
function frame(parent, x1, y1, x2, y2) {
  const r = mk(parent, 'rect', {x: x1, y: y1, width: x2 - x1, height: y2 - y1, fill: 'none', stroke: '#262626', 'stroke-width': 3});
  
  
}
function leftTicks(parent, vals, y, xL, len) {
  vals.forEach(v => {
    const t = mk(parent, 'line', {x1: xL, x2: xL + len, y1: y(v), y2: y(v), stroke: '#222', 'stroke-width': 2.2});
    
    
    const l = mk(parent, 'text', {x: xL - 8, y: y(v) + 11, 'text-anchor': 'end', 'class': 't'}, String(v));
    
    
  });
}
function rightTickMarks(parent, vals, y, xR, len) {
  vals.forEach(v => {
    const t = mk(parent, 'line', {x1: xR - len, x2: xR, y1: y(v), y2: y(v), stroke: '#222', 'stroke-width': 2.2});
    
    
  });
}
function rightTickLabels(parent, vals, y, xR) {
  vals.forEach(v => {
    const l = mk(parent, 'text', {x: xR + 8, y: y(v) + 11, 'class': 't'}, String(v));
    
    
  });
}
function seriesPath(parent, hours, values, x, y, color, name) {
  const d = values.map((v, i) => (i ? 'L' : 'M') + x(hours(i)).toFixed(1) + ' ' + y(v).toFixed(1)).join('');
  const p = mk(parent, 'path', {d: d, fill: 'none', stroke: color, 'stroke-width': 2.6, 'stroke-linejoin': 'round'});
  
  
  return p;
}

/* ---------- panel a ---------- */
timeGrid(pA, xA, 11, 324, '#dcdcdc', 15, true);
windHours.forEach((h, i) => {
  const c = mk(pA, 'circle', {cx: xA(h).toFixed(1), cy: yA(windSpeeds[i]).toFixed(1), r: 9, fill: 'hsl(' + windDirections[i] + ',100%,50%)'});
  
  
});
frame(pA, 140.6, 11, 1625, 324);
leftTicks(pA, windTicks, yA, 140.6, 14);
rightTickMarks(pA, windTicks.slice(1, -1), yA, 1625, 14);

const windGrad = mk(defs, 'linearGradient', {id: 'wind-grad', x1: 0, y1: 1, x2: 0, y2: 0});
[0, 60, 120, 180, 240, 300, 360].forEach(d => {
  mk(windGrad, 'stop', {offset: d / 360, 'stop-color': 'hsl(' + d + ',100%,50%)'});
});
const windBar = mk(pA, 'rect', {x: 1638, y: 9, width: 26, height: 315, fill: 'url(#wind-grad)'});


compassLabels.forEach((lab, i) => {
  const t = mk(pA, 'text', {x: 1672, y: 324 - i * 78.75 + 10, 'class': 't'}, lab);
  
  
});

/* ---------- panel b ---------- */
const heatClip = mk(pB, 'g', {'clip-path': 'url(#heat-clip)'});


const heatGroup = mk(heatClip, 'g', {filter: 'url(#heat-blur)'});


const rowEdge = r => {
  if (r <= 0) return yB(heatDiameters[0] * 1.15);
  if (r >= heatDiameters.length) return yB(8.5);
  return yB(Math.sqrt(heatDiameters[r-1] * heatDiameters[r]));
};
heatValues.forEach((col, c) => {
  const x1 = xA(heatHours[c]), x2 = xA(heatHours[c+1]);
  col.forEach((v, r) => {
    const prev = r > 0 ? (col[r-1] + v) / 2 : v;
    const next = r < col.length - 1 ? (col[r+1] + v) / 2 : v;
    const id = 'hc' + c + '_' + r;
    const g = mk(defs, 'linearGradient', {id: id, x1: 0, y1: 0, x2: 0, y2: 1});
    mk(g, 'stop', {offset: 0, 'stop-color': concColor(prev)});
    mk(g, 'stop', {offset: 0.5, 'stop-color': concColor(v)});
    mk(g, 'stop', {offset: 1, 'stop-color': concColor(next)});
    const y1 = rowEdge(r), y2 = rowEdge(r + 1);
    const cell = mk(heatGroup, 'rect', {x: x1.toFixed(1), y: y1.toFixed(1), width: (x2 - x1 + 0.6).toFixed(1), height: (y2 - y1 + 0.5).toFixed(1), fill: 'url(#' + id + ')'});
    
    
  });
});
spikeHours.forEach((h, i) => {
  const top = yB(spikeUpperDiameters[i]), bottom = yB(spikeLowerDiameters[i]);
  const s = mk(heatClip, 'rect', {x: (xA(h) - 2.5).toFixed(1), y: top.toFixed(1), width: 5, height: (bottom - top).toFixed(1), fill: concColor(spikeValues[i]), filter: 'url(#spike-blur)'});
  
  
});
const missingBar = mk(pB, 'rect', {x: xA(missingStartHour).toFixed(1), y: 362, width: (xA(missingEndHour) - xA(missingStartHour)).toFixed(1), height: 328, fill: '#fff'});


referenceDiameters.forEach(d => {
  const l = mk(pB, 'line', {x1: 146, x2: 1618, y1: yB(d), y2: yB(d), stroke: '#fff', 'stroke-width': 3, 'stroke-dasharray': '10 9'});
  
  
});
const growthLine = mk(pB, 'path', {d: growthHours.map((h, i) => (i ? 'L' : 'M') + xA(h).toFixed(1) + ' ' + yB(growthDiameters[i]).toFixed(1)).join(''), fill: 'none', stroke: '#000', 'stroke-width': 3.4});


modeHours.forEach((h, i) => {
  const c = mk(pB, 'circle', {cx: xA(h).toFixed(1), cy: yB(modeDiameters[i]).toFixed(1), r: 2.8, fill: '#fff'});
  
  
});
timeGrid(pB, xA, 362.5, 691.5, '#fff', 4, false);
frame(pB, 140.6, 362.5, 1625, 691.5);
diameterMajorTicks.forEach(d => {
  const y = Math.min(691.5, Math.max(362.5, yB(d)));
  const l = mk(pB, 'text', {x: 133, y: y + 12, 'text-anchor': 'end', 'class': 't'}, String(d));
  
  
});
diameterMajorTicks.concat(diameterMinorTicks).forEach(d => {
  const y = yB(d);
  const a = mk(pB, 'line', {x1: 140.6, x2: 145, y1: y, y2: y, stroke: '#222', 'stroke-width': 1.6});
  
  
  const b = mk(pB, 'line', {x1: 1620, x2: 1625, y1: y, y2: y, stroke: '#222', 'stroke-width': 1.6});
  
  
});
const concGrad = mk(defs, 'linearGradient', {id: 'conc-grad', x1: 0, y1: 1, x2: 0, y2: 0});
concStops.forEach((s, i) => {
  mk(concGrad, 'stop', {offset: (s - 1) / 4, 'stop-color': 'rgb(' + concColors[i] + ')'});
});
const concBar = mk(pB, 'rect', {x: 1637, y: 361, width: 23, height: 331.5, fill: 'url(#conc-grad)'});


concentrationExponents.forEach(e => {
  const y = 692.5 - (e - 1) * 82.9;
  const t = mk(pB, 'text', {x: 1670, y: y + 14, 'class': 't'});
  
  
  mk(t, 'tspan', {}, '10');
  mk(t, 'tspan', {dy: -13, 'font-size': 20}, String(e));
});

/* ---------- panel c ---------- */
timeGrid(pC, xC, 741.7, 1037.7, '#bcbcbc', 14, true);
seriesPath(pC, i => nucleationStartHour + i * fiveMinuteStep, nucleationValues, xC, yC, '#4472f0', 'nucleation-mode-line');
seriesPath(pC, i => csStartHour + i * fiveMinuteStep, csValues, xC, yC, '#ff8c00', 'cs-line');
frame(pC, 140.3, 741.7, 1621, 1037.7);
leftTicks(pC, nucleationTicks, yC, 140.3, 14);
rightTickMarks(pC, csTicks, yC, 1621, 14);
rightTickLabels(pC, csTicks, yC, 1621);

/* ---------- panel d ---------- */
timeGrid(pD, xC, 1085, 1382, '#bcbcbc', 14, true);
subValues.forEach((v, i) => {
  const c = mk(pD, 'ellipse', {cx: xC(subStartHour + i * subStep).toFixed(1), cy: yDL(v).toFixed(1), rx: 3.6, ry: 3.4, fill: 'none', stroke: '#f00', 'stroke-width': 2});
  
  
});
seriesPath(pD, i => i === 0 ? h2so4FirstHour : (i === h2so4Values.length - 1 ? h2so4LastHour : h2so4SecondHour + (i - 1) * h2so4Step), h2so4Values, xC, yDR, '#000', 'h2so4-proxy-line');
frame(pD, 140.3, 1085, 1621, 1382);
leftTicks(pD, subTicks, yDL, 140.3, 14);
rightTickMarks(pD, h2so4Ticks, yDR, 1621, 14);
rightTickLabels(pD, h2so4Ticks, yDR, 1621);
timeTickHours.forEach((h, i) => {
  const t = mk(pD, 'text', {x: xC(h), y: 1418, 'text-anchor': 'middle', 'class': 't'}, timeTickLabels[i]);
  
  
});
</script>
</body>
</html>
